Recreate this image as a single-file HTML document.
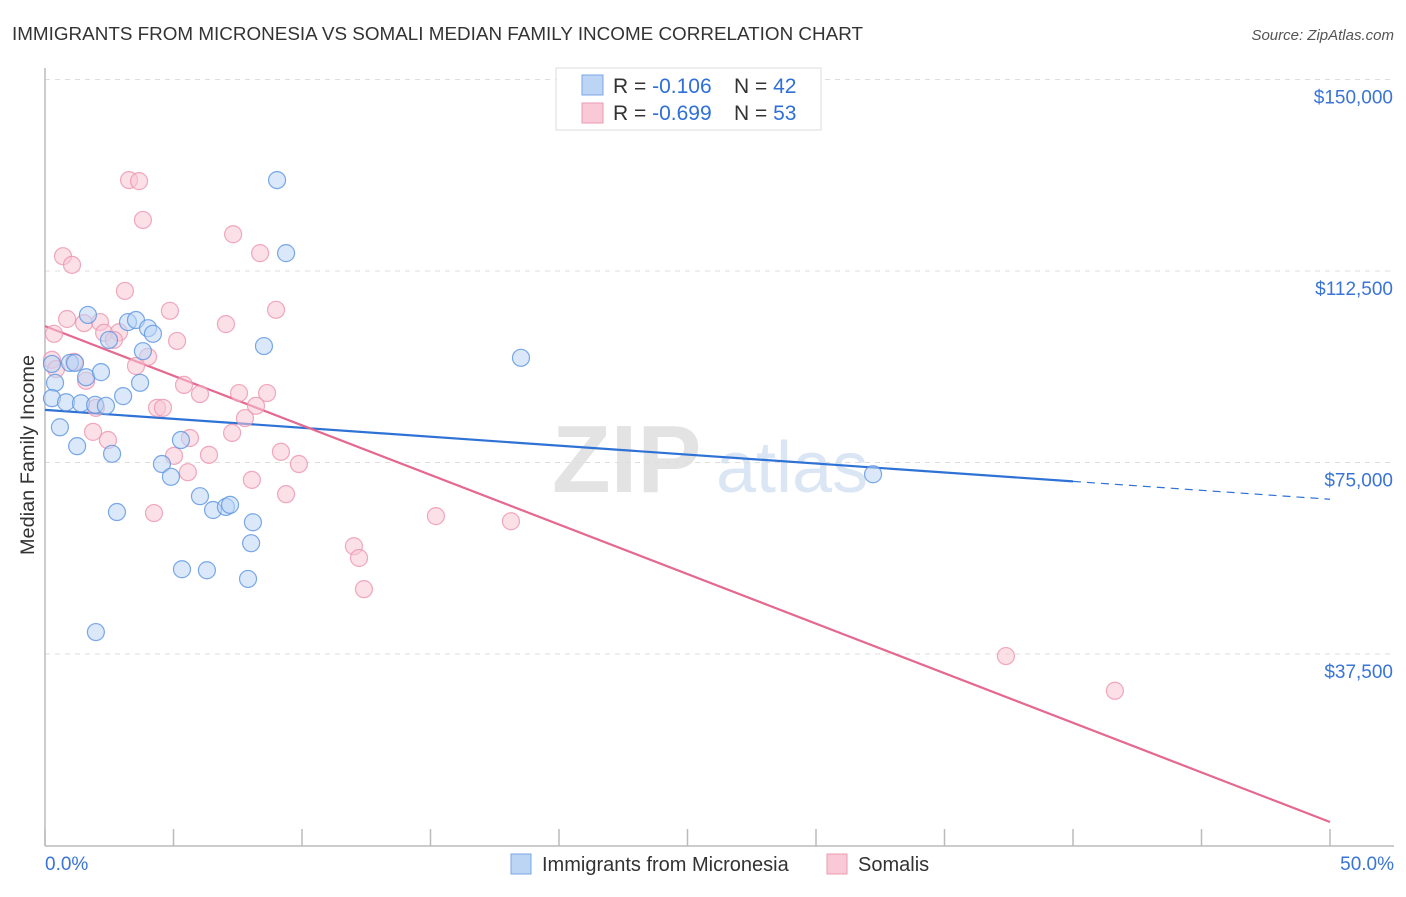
<!DOCTYPE html>
<html><head><meta charset="utf-8"><style>
body{margin:0;background:#fff;font-family:"Liberation Sans",sans-serif;}
svg text{font-family:"Liberation Sans",sans-serif;}
</style></head><body>
<svg id="chart" width="1406" height="892">
<text x="12" y="40" font-size="18" fill="#333" textLength="851" lengthAdjust="spacingAndGlyphs">IMMIGRANTS FROM MICRONESIA VS SOMALI MEDIAN FAMILY INCOME CORRELATION CHART</text>
<text x="1394" y="40" font-size="15" fill="#555" text-anchor="end" font-style="italic">Source: ZipAtlas.com</text>
<g>
<text x="552" y="492" font-size="96" fill="#e3e3e3" font-family="Liberation Serif,serif" font-weight="bold">ZIP</text>
<text x="716" y="492" font-size="72" fill="#dbe6f5">atlas</text>
</g>
<g id="grid"></g>
<g id="axes"></g>
<g id="trends"></g>
<g id="points"></g>
<text transform="translate(34,455) rotate(-90)" font-size="19" fill="#333" text-anchor="middle" textLength="200" lengthAdjust="spacingAndGlyphs">Median Family Income</text>
<g>
<rect x="556" y="68" width="265" height="62" fill="#fff" stroke="#ddd"/>
<rect x="582" y="75" width="21" height="20" fill="#bcd5f5" stroke="#7aa6e6"/>
<rect x="582" y="103" width="21" height="20" fill="#f9c9d7" stroke="#ec9ab3"/>
<text x="613" y="93" font-size="21" fill="#333">R = <tspan fill="#2e6fd8">-0.106</tspan></text>
<text x="734" y="93" font-size="21" fill="#333">N = <tspan fill="#2e6fd8">42</tspan></text>
<text x="613" y="120" font-size="21" fill="#333">R = <tspan fill="#2e6fd8">-0.699</tspan></text>
<text x="734" y="120" font-size="21" fill="#333">N = <tspan fill="#2e6fd8">53</tspan></text>
</g>
<g>
<rect x="511" y="854" width="20" height="20" fill="#bcd5f5" stroke="#7aa6e6"/>
<text x="542" y="871" font-size="20" fill="#333">Immigrants from Micronesia</text>
<rect x="827" y="854" width="20" height="20" fill="#f9c9d7" stroke="#ec9ab3"/>
<text x="858" y="871" font-size="20" fill="#333">Somalis</text>
</g>
</svg>
<script>
const yTicks=[37500,75000,112500,150000];
const yTickLabels=["$37,500","$75,000","$112,500","$150,000"];
const xTickLabels=["0.0%","50.0%"];
const blueX=[9.03,9.38,1.67,3.23,3.54,4.01,4.20,2.49,3.81,8.52,18.52,0.27,0.97,1.17,1.60,2.18,0.39,3.70,0.27,0.82,1.40,1.95,2.37,3.04,0.58,1.25,2.61,5.29,4.55,4.90,32.22,6.03,2.80,6.54,7.04,7.20,8.09,8.02,5.33,6.30,7.90,1.98];
const blueY=[130.3,116.0,103.9,102.5,102.9,101.3,100.2,99.0,96.8,97.8,95.5,94.3,94.5,94.5,91.7,92.7,90.6,90.6,87.6,86.8,86.6,86.3,86.1,88.0,81.9,78.2,76.7,79.4,74.7,72.2,72.7,68.4,65.3,65.7,66.3,66.7,63.3,59.2,54.1,53.9,52.2,41.8];
const pinkX=[3.27,3.66,3.81,0.70,1.05,7.32,8.37,3.11,8.99,4.86,0.86,1.52,2.14,7.04,0.35,2.30,2.88,2.68,5.14,4.01,1.13,0.27,0.43,3.54,1.60,5.41,6.03,7.55,8.64,4.36,4.59,1.98,8.21,7.78,1.87,7.28,2.45,5.64,6.38,9.18,5.02,5.56,8.05,9.88,9.38,4.24,15.21,18.13,12.02,12.22,12.41,37.39,41.63];
const pinkY=[130.3,130.1,122.5,115.4,113.7,119.7,116.0,108.6,104.9,104.7,103.1,102.3,102.5,102.1,100.2,100.4,100.5,99.0,98.8,95.7,94.7,95.1,93.3,93.9,91.0,90.2,88.4,88.6,88.6,85.7,85.7,85.7,86.1,83.7,81.0,80.8,79.4,79.8,76.5,77.1,76.3,73.1,71.6,74.7,68.8,65.1,64.5,63.5,58.6,56.3,50.2,37.1,30.3];
const blueTrend=[85.3,67.8];
const blueTrendSolidEnd=40;
const pinkTrend=[101.7,4.6];
const NS="http://www.w3.org/2000/svg";
const X0=45,X1=1330,Y0=845.5,PXK=191.5/37.5;
const xs=p=>X0+(X1-X0)*p/50;
const ys=k=>Y0-k*PXK;
function mk(tag,attrs,parent){const e=document.createElementNS(NS,tag);for(const k in attrs)e.setAttribute(k,attrs[k]);document.getElementById(parent).appendChild(e);return e;}
yTicks.forEach((t,i)=>{
 const y=ys(t/1000);
 const g=mk('line',{x1:45,x2:1394,y1:y,y2:y,stroke:'#ddd','stroke-dasharray':'5,5'},'grid');
 
 
 const tx=mk('text',{x:1393,y:y+24,'font-size':19,fill:'#3a74d6','text-anchor':'end'},'axes');
 tx.textContent=yTickLabels[i];
 
 
});
const ax=mk('line',{x1:45,x2:45,y1:68,y2:846,stroke:'#bbb','stroke-width':1.5},'axes');


const bx=mk('line',{x1:45,x2:1394,y1:846,y2:846,stroke:'#bbb','stroke-width':1.5},'axes');


for(let i=0;i<=10;i++){const x=xs(i*5);
 const t=mk('line',{x1:x,x2:x,y1:829,y2:846,stroke:'#bbb','stroke-width':1.5},'axes');
 
 }
[[0,45,'start'],[50,1394,'end']].forEach((d,i)=>{
 const t=mk('text',{x:d[1],y:870,'font-size':19,fill:'#3a74d6','text-anchor':d[2]},'axes');
 t.textContent=xTickLabels[i];
 
 });
function pts(X,Y,fill,stroke,name){X.forEach((x,i)=>{
 const c=mk('circle',{cx:xs(x),cy:ys(Y[i]),r:8.5,fill:fill,'fill-opacity':0.55,stroke:stroke,'stroke-opacity':0.8,'stroke-width':1.2},'points');
 
 });}
pts(pinkX,pinkY,'#f8c6d5','#ec93ae','somali-point');
pts(blueX,blueY,'#bcd5f5','#5b93e0','micronesia-point');
const bt=k=>blueTrend[0]+(blueTrend[1]-blueTrend[0])*k/50;
const l1=mk('line',{x1:xs(0),y1:ys(bt(0)),x2:xs(blueTrendSolidEnd),y2:ys(bt(blueTrendSolidEnd)),stroke:'#2f72d6','stroke-width':2.2},'trends');


const l2=mk('line',{x1:xs(blueTrendSolidEnd),y1:ys(bt(blueTrendSolidEnd)),x2:xs(50),y2:ys(bt(50)),stroke:'#2f72d6','stroke-width':1.2,'stroke-dasharray':'8,6'},'trends');


const l3=mk('line',{x1:xs(0),y1:ys(pinkTrend[0]),x2:xs(50),y2:ys(pinkTrend[1]),stroke:'#e5688f','stroke-width':2.2},'trends');


</script>
</body></html>
